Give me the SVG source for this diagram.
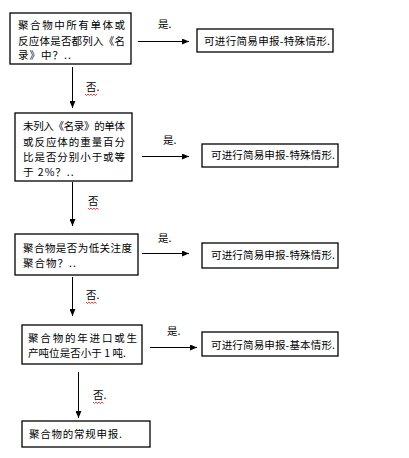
<svg xmlns="http://www.w3.org/2000/svg" width="409" height="458" viewBox="0 0 409 458">
<style>
.box{fill:#fff;stroke:#000;stroke-width:1.3}
.t{font-family:"Noto Sans CJK SC","Noto Sans CJK JP",sans-serif;font-size:10.5px;fill:#000}
.lt{letter-spacing:1px}
.ln{stroke:#000;stroke-width:1;fill:none}
.sq{stroke:#d00;stroke-width:0.7;fill:none}
</style>
<defs>
<marker id="ah" markerWidth="7" markerHeight="6" refX="7" refY="3" orient="auto" markerUnits="userSpaceOnUse">
<path d="M0,0 L7,3 L0,6 Z" fill="#000"/>
</marker>
</defs>
<rect width="409" height="458" fill="#fff"/>
<g id="connectors">
<line class="ln" x1="138" y1="41.5" x2="189" y2="41.5" marker-end="url(#ah)"/>
<line class="ln" x1="72.5" y1="67" x2="72.5" y2="108" marker-end="url(#ah)"/>
<line class="ln" x1="142" y1="156.5" x2="189" y2="156.5" marker-end="url(#ah)"/>
<line class="ln" x1="72.5" y1="182" x2="72.5" y2="226" marker-end="url(#ah)"/>
<line class="ln" x1="142" y1="253.5" x2="189" y2="253.5" marker-end="url(#ah)"/>
<line class="ln" x1="72.5" y1="277" x2="72.5" y2="316" marker-end="url(#ah)"/>
<line class="ln" x1="150" y1="347.5" x2="197" y2="347.5" marker-end="url(#ah)"/>
<line class="ln" x1="78.5" y1="372" x2="78.5" y2="418" marker-end="url(#ah)"/>
<text class="t" x="158" y="28">是.</text>
<text class="t" x="86" y="91">否.</text>
<path class="sq" d="M85,94 l1.5,1.5 l1.5,-1.5 l1.5,1.5 l1.5,-1.5 l1.5,1.5 l1.5,-1.5 l1.5,1.5 l1.5,-1.5"/>
<text class="t" x="163" y="144">是.</text>
<text class="t" x="88" y="205">否</text>
<path class="sq" d="M88,208 l1.5,1.5 l1.5,-1.5 l1.5,1.5 l1.5,-1.5 l1.5,1.5 l1.5,-1.5 l1.5,1.5"/>
<text class="t" x="158" y="242">是.</text>
<text class="t" x="86" y="299">否.</text>
<path class="sq" d="M86,302 l1.5,1.5 l1.5,-1.5 l1.5,1.5 l1.5,-1.5 l1.5,1.5 l1.5,-1.5 l1.5,1.5"/>
<text class="t" x="167" y="335">是.</text>
<text class="t" x="93" y="399">否.</text>
<path class="sq" d="M93,402 l1.5,1.5 l1.5,-1.5 l1.5,1.5 l1.5,-1.5 l1.5,1.5 l1.5,-1.5 l1.5,1.5"/>
</g>
<g id="q1">
<rect class="box" x="10" y="13" width="121" height="51"/>
<text class="t" x="18" y="29" textLength="107" lengthAdjust="spacing">聚合物中所有单体或</text>
<text class="t" x="18" y="45" textLength="107" lengthAdjust="spacing">反应体是否都列入《名</text>
<text class="t lt" x="18" y="59">录》中？..</text>
</g>
<g id="r1">
<rect class="box" x="197" y="29" width="136" height="23"/>
<text class="t" x="204" y="45" textLength="126" lengthAdjust="spacing">可进行简易申报-特殊情形.</text>
</g>
<g id="q2">
<rect class="box" x="15" y="113" width="117" height="68"/>
<text class="t" x="23" y="130" textLength="102" lengthAdjust="spacing">未列入《名录》的单体</text>
<text class="t" x="23" y="146" textLength="102" lengthAdjust="spacing">或反应体的重量百分</text>
<text class="t" x="23" y="161" textLength="102" lengthAdjust="spacing">比是否分别小于或等</text>
<text class="t lt" x="23" y="176">于 2%？..</text>
</g>
<g id="r2">
<rect class="box" x="202" y="144" width="136" height="23"/>
<text class="t" x="211" y="159" textLength="124" lengthAdjust="spacing">可进行简易申报-特殊情形.</text>
</g>
<g id="q3">
<rect class="box" x="15" y="234" width="123" height="41"/>
<text class="t" x="23" y="252" textLength="109" lengthAdjust="spacing">聚合物是否为低关注度</text>
<text class="t lt" x="23" y="267">聚合物？..</text>
</g>
<g id="r3">
<rect class="box" x="202" y="243" width="136" height="25"/>
<text class="t" x="211" y="259" textLength="124" lengthAdjust="spacing">可进行简易申报-特殊情形.</text>
</g>
<g id="q4">
<rect class="box" x="22" y="325" width="120" height="39"/>
<text class="t" x="28" y="342" textLength="109" lengthAdjust="spacing">聚合物的年进口或生</text>
<text class="t" x="28" y="357" textLength="98" lengthAdjust="spacing">产吨位是否小于 1 吨.</text>
</g>
<g id="r4">
<rect class="box" x="202" y="332" width="136" height="24"/>
<text class="t" x="211" y="349" textLength="124" lengthAdjust="spacing">可进行简易申报-基本情形.</text>
</g>
<g id="end">
<rect class="box" x="22" y="421" width="128" height="26"/>
<text class="t" x="29" y="438" textLength="93" lengthAdjust="spacing">聚合物的常规申报.</text>
</g>
</svg>
